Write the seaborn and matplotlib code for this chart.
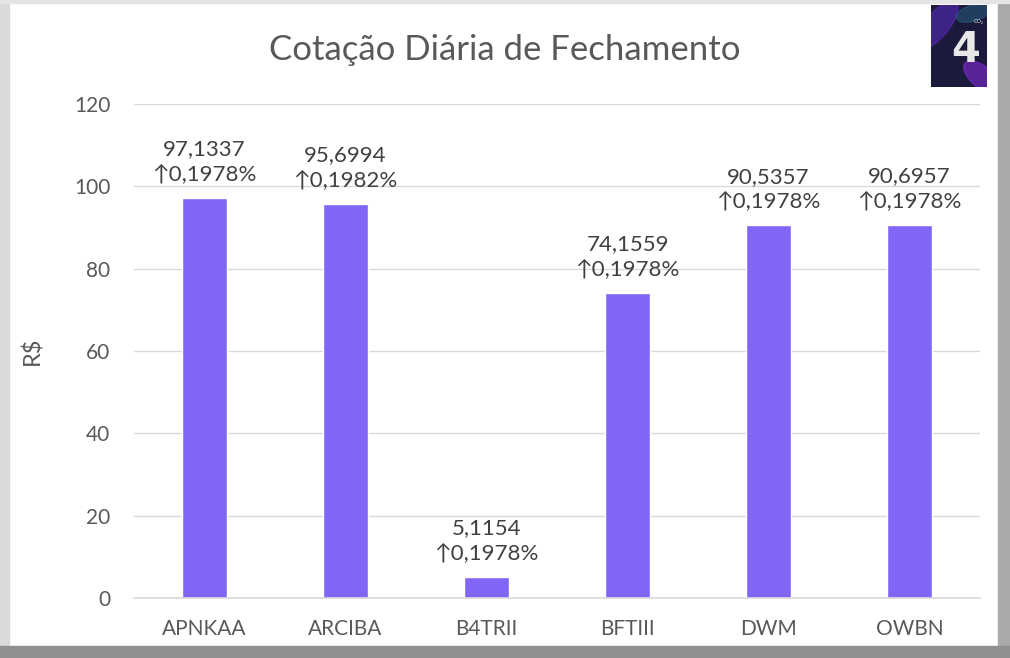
import matplotlib
matplotlib.use("Agg")
import matplotlib.pyplot as plt
import matplotlib.patches as mpatches
import seaborn as sns
import pandas as pd

# --- Data ---
tickers = ["APNKAA", "ARCIBA", "B4TRII", "BFTIII", "DWM", "OWBN"]
closing = [97.1337, 95.6994, 5.1154, 74.1559, 90.5357, 90.6957]
variation = [0.1978, 0.1982, 0.1978, 0.1978, 0.1978, 0.1978]

df = pd.DataFrame({"ticker": tickers, "close": closing, "var": variation})

# --- Style ---
sns.set_theme(style="white")
plt.rcParams["font.family"] = ["Lato", "DejaVu Sans"]
TXT = "#595959"
BAR = "#8165F5"

fig = plt.figure(figsize=(10.10, 6.58), dpi=100)
fig.patch.set_facecolor("white")

# frame / bevel
fig.patches.append(mpatches.Rectangle((0, 0), 9 / 1010, 1, transform=fig.transFigure,
                                      color="#dadada", zorder=0))
fig.patches.append(mpatches.Rectangle((998 / 1010, 0), 12 / 1010, 1, transform=fig.transFigure,
                                      color="#a9a9a9", zorder=0))
fig.patches.append(mpatches.Rectangle((0, 0), 1, 12 / 658, transform=fig.transFigure,
                                      color="#8f8f8f", zorder=0))
fig.patches.append(mpatches.Rectangle((0, 655 / 658), 1, 3 / 658, transform=fig.transFigure,
                                      color="#e4e4e4", zorder=0))

ax = fig.add_axes([134 / 1010, 60 / 658, 846 / 1010, 494 / 658])
sns.barplot(data=df, x="ticker", y="close", color=BAR, width=0.32, saturation=1, ax=ax)

ax.set_ylim(0, 120)
ax.set_yticks(range(0, 121, 20))
ax.yaxis.grid(True, color="#d9d9d9", linewidth=1)
ax.set_axisbelow(True)
for s in ["top", "right", "left"]:
    ax.spines[s].set_visible(False)
ax.spines["bottom"].set_color("#d9d9d9")
ax.spines["bottom"].set_linewidth(1.2)
ax.tick_params(axis="both", length=0, labelsize=15, colors=TXT)
ax.tick_params(axis="y", pad=17)
ax.tick_params(axis="x", pad=15)
ax.set_xlabel("")
ax.set_ylabel("R$", fontsize=17, color=TXT, labelpad=22)

# data labels
for i, (c, v) in enumerate(zip(closing, variation)):
    lbl = f"{c:.4f}".replace(".", ",") + "\n" + "\u2191" + f"{v:.4f}".replace(".", ",") + "%"
    ax.annotate(lbl, (i, c), xytext=(0, 10), textcoords="offset points",
                ha="center", va="bottom", fontsize=16, color="#404040", linespacing=1.3)

fig.text(0.5, 1 - 50 / 658, "Cotação Diária de Fechamento", ha="center", va="center",
         fontsize=25, color=TXT)

# small logo at top right
lax = fig.add_axes([931 / 1010, 1 - 87 / 658, 56 / 1010, 82 / 658])
lax.set_facecolor("#1b1a3a")
lax.set_xlim(0, 1)
lax.set_ylim(0, 1)
lax.add_patch(mpatches.Ellipse((0.1, 0.75), 0.9, 0.35, angle=35, color="#5a2bc6", alpha=0.55))
lax.add_patch(mpatches.Ellipse((0.95, 0.1), 0.8, 0.3, angle=-25, color="#8a2be2", alpha=0.55))
lax.add_patch(mpatches.Ellipse((0.75, 0.9), 0.6, 0.2, angle=10, color="#2a6c8a", alpha=0.45))
lax.text(0.62, 0.45, "4", ha="center", va="center", fontsize=30, color="#e8e8e8",
         fontweight="bold", family="DejaVu Sans")
lax.text(0.85, 0.8, "CO\u2082", ha="center", va="center", fontsize=4, color="#dddddd")
lax.set_xticks([])
lax.set_yticks([])
for s in lax.spines.values():
    s.set_visible(False)

fig.savefig("out.png", dpi=100)
